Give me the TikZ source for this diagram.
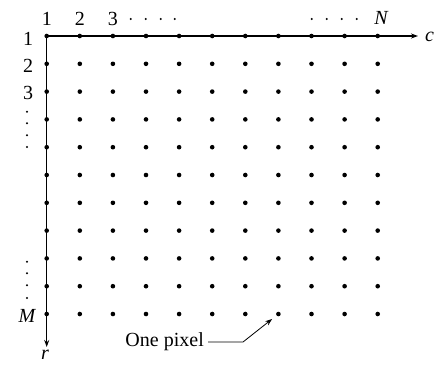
\documentclass[tikz,border=0pt]{standalone}
\usepackage{fontspec}
\setmainfont{Liberation Serif}
\usetikzlibrary{arrows.meta,calc}
\begin{document}
\begin{tikzpicture}[x=1pt,y=-1pt,
  pix/.style={circle,fill=black,inner sep=0pt,minimum size=4.6pt},
  edot/.style={circle,fill=black,inner sep=0pt,minimum size=2.2pt},
  lab/.style={font=\fontsize{20}{24}\selectfont,inner sep=0pt},
  axis/.style={line width=1.2pt,-{Stealth[length=7pt,width=5pt]}}]
\useasboundingbox (0,0) rectangle (435,365);
\fill[white] (0,0) rectangle (435,365);
% pixels
\foreach \i in {0,...,10}{
  \foreach \j in {0,...,10}{
    \node[pix] (p-\i-\j) at ({46.7+33.1*\j},{36+27.8*\i}) {};
  }
}
\coordinate (cend) at (418,36);
\coordinate (rend) at (46.7,347);
\draw[axis] (p-0-0.center) -- (cend);
\draw[axis] (p-0-0.center) -- (rend);
\node[lab,anchor=west] (c) at (425,37) {\itshape c};
\node[lab] (r) at (45,355) {\itshape r};
% column labels
\node[lab] (c1) at (46.9,19) {1};
\node[lab] (c2) at (79.8,19) {2};
\node[lab] (c3) at (112.9,19) {3};
\foreach \x [count=\k] in {130.7,145.7,160.7,174.7}{\node[edot] (tl\k) at (\x,19) {};}
\foreach \x [count=\k] in {311.7,326.7,341.7,356.7}{\node[edot] (tr\k) at (\x,19) {};}
\node[lab] (cn) at (381,18) {\itshape N};
% row labels
\node[lab] (r1) at (28,39) {1};
\node[lab] (r2) at (28,66) {2};
\node[lab] (r3) at (28,93) {3};
\foreach \y [count=\k] in {111.7,123.3,135.2,147}{\node[edot] (lu\k) at (27,\y) {};}
\foreach \y [count=\k] in {261.7,273.3,285.2,298}{\node[edot] (ld\k) at (27,\y) {};}
\node[lab] (rm) at (27,316) {\itshape M};
% one pixel
\node[lab,anchor=east] (one) at (204,342) {One pixel};
\coordinate (bend) at (243,342);
\draw[line width=0.8pt,-{Stealth[length=7pt,width=5pt]},shorten >=8pt] (one.east) ++(4,0) -- (bend) -- (p-10-7.center);
\end{tikzpicture}
\end{document}
